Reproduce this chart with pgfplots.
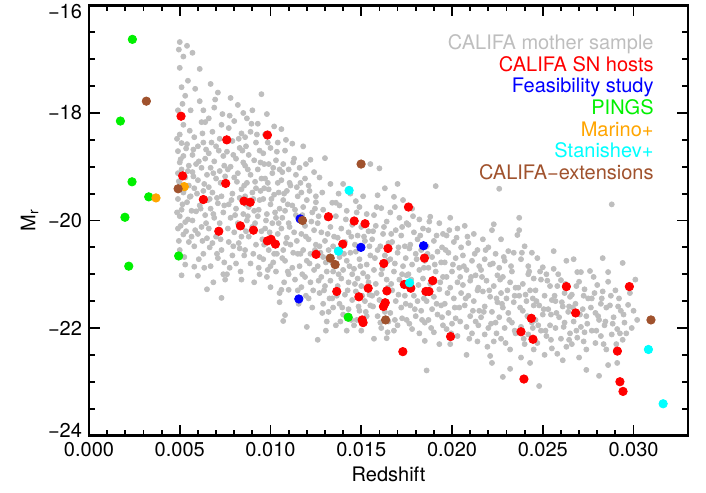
\documentclass[border=0pt]{standalone}
\usepackage{fontspec}
\setmainfont{TeX Gyre Heros}
\usepackage{pgfplots}
\pgfplotsset{compat=1.18}
\definecolor{cgrey}{RGB}{190,190,190}
\definecolor{cred}{RGB}{255,0,0}
\definecolor{cblue}{RGB}{0,0,255}
\definecolor{cgreen}{RGB}{0,240,0}
\definecolor{corange}{RGB}{255,165,0}
\definecolor{ccyan}{RGB}{0,255,255}
\definecolor{cbrown}{RGB}{160,82,45}
\begin{document}
\begin{tikzpicture}
\begin{axis}[
  scale only axis, width=299.5pt, height=215pt,
  xmin=0, xmax=0.033, ymin=-24, ymax=-16,
  xtick={0,0.005,0.010,0.015,0.020,0.025,0.030},
  xticklabels={0.000,0.005,0.010,0.015,0.020,0.025,0.030},
  ytick={-24,-22,-20,-18,-16},
  yticklabels={\raisebox{2.5pt}[\height][\depth]{−24},−22,−20,−18,\raisebox{-3.2pt}[\height][\depth]{−16}},
  scaled x ticks=false,
  minor x tick num=4, minor y tick num=3,
  tick align=inside, major tick length=5.3pt, minor tick length=2.8pt,
  axis line style={line width=1.2pt},
  every tick/.style={black, line width=0.9pt},
  ticklabel style={font=\fontsize{10}{12}\selectfont},
  label style={font=\fontsize{10}{12}\selectfont},
  xlabel={Redshift}, ylabel={M\textsubscript{r}},
  xlabel style={yshift=2pt},
  ylabel style={yshift=-2pt},
]
\addplot[only marks, mark=*, mark size=1.25pt, draw=none, mark options={draw=cgrey, fill=cgrey}] table {
0.0050 -16.68
0.0052 -16.95
0.0054 -16.75
0.0057 -16.88
0.0050 -17.16
0.0051 -17.52
0.0053 -17.68
0.0049 -17.95
0.0052 -18.22
0.0050 -18.40
0.0051 -18.56
0.0054 -18.58
0.0049 -18.71
0.0052 -18.80
0.0050 -18.92
0.0055 -18.98
0.0051 -19.05
0.0049 -19.12
0.0053 -19.20
0.0050 -19.30
0.0055 -19.35
0.0052 -19.48
0.0049 -19.60
0.0054 -19.66
0.0051 -19.80
0.0050 -19.92
0.0053 -20.03
0.0049 -20.15
0.0052 -20.26
0.0055 -20.40
0.0050 -20.55
0.0053 -20.82
0.0051 -21.02
0.0061 -17.18
0.0061 -17.78
0.0056 -17.95
0.0063 -17.95
0.0064 -18.17
0.0062 -18.17
0.0058 -18.45
0.0063 -18.55
0.0060 -18.62
0.0057 -18.78
0.0064 -18.85
0.0059 -18.95
0.0062 -19.02
0.0057 -19.10
0.0065 -19.15
0.0060 -19.25
0.0058 -19.40
0.0063 -19.45
0.0056 -19.55
0.0061 -19.72
0.0059 -19.83
0.0064 -19.90
0.0057 -20.00
0.0062 -20.12
0.0060 -20.25
0.0065 -20.33
0.0058 -20.48
0.0063 -20.62
0.0058 -20.86
0.0060 -21.03
0.0065 -21.28
0.0067 -17.46
0.0071 -17.62
0.0069 -17.90
0.0066 -18.10
0.0073 -18.22
0.0068 -18.35
0.0072 -18.48
0.0070 -18.62
0.0066 -18.75
0.0074 -18.80
0.0069 -18.90
0.0067 -19.02
0.0072 -19.08
0.0075 -19.18
0.0070 -19.22
0.0066 -19.38
0.0068 -19.48
0.0073 -19.55
0.0071 -19.68
0.0067 -19.78
0.0074 -19.85
0.0069 -19.95
0.0072 -20.05
0.0066 -20.15
0.0070 -20.30
0.0068 -20.42
0.0073 -20.55
0.0071 -20.70
0.0067 -20.85
0.0074 -21.00
0.0073 -21.44
0.0075 -21.10
0.0078 -17.72
0.0082 -17.85
0.0085 -18.00
0.0080 -18.15
0.0077 -18.28
0.0084 -18.38
0.0079 -18.52
0.0083 -18.65
0.0076 -18.72
0.0081 -18.85
0.0085 -18.92
0.0078 -19.00
0.0082 -19.12
0.0080 -19.20
0.0076 -19.32
0.0084 -19.42
0.0079 -19.50
0.0083 -19.58
0.0077 -19.70
0.0081 -19.78
0.0085 -19.88
0.0078 -19.95
0.0082 -20.05
0.0080 -20.22
0.0084 -20.30
0.0077 -20.40
0.0083 -20.52
0.0079 -20.65
0.0081 -20.80
0.0076 -21.00
0.0084 -21.10
0.0095 -17.65
0.0090 -17.95
0.0087 -18.10
0.0093 -18.20
0.0089 -18.35
0.0086 -18.45
0.0092 -18.55
0.0094 -18.70
0.0088 -18.78
0.0091 -18.88
0.0086 -18.98
0.0093 -19.05
0.0089 -19.15
0.0095 -19.22
0.0087 -19.30
0.0092 -19.40
0.0090 -19.48
0.0086 -19.55
0.0094 -19.62
0.0088 -19.75
0.0091 -19.82
0.0093 -19.92
0.0087 -20.00
0.0090 -20.12
0.0095 -20.20
0.0088 -20.30
0.0092 -20.45
0.0086 -20.55
0.0094 -20.68
0.0089 -20.80
0.0094 -21.00
0.0091 -21.15
0.0098 -18.02
0.0102 -18.25
0.0097 -18.40
0.0104 -18.55
0.0100 -18.65
0.0096 -18.75
0.0103 -18.88
0.0099 -18.95
0.0105 -19.05
0.0101 -19.12
0.0097 -19.22
0.0104 -19.30
0.0099 -19.42
0.0102 -19.52
0.0096 -19.60
0.0100 -19.70
0.0105 -19.78
0.0098 -19.88
0.0103 -19.95
0.0101 -20.05
0.0097 -20.15
0.0104 -20.25
0.0099 -20.55
0.0102 -20.62
0.0096 -20.72
0.0100 -20.85
0.0103 -20.95
0.0098 -21.05
0.0100 -21.24
0.0105 -21.35
0.0106 -18.30
0.0112 -18.57
0.0108 -18.70
0.0113 -18.85
0.0107 -18.95
0.0110 -19.05
0.0114 -19.15
0.0106 -19.25
0.0111 -19.35
0.0109 -19.45
0.0115 -19.55
0.0107 -19.62
0.0112 -19.72
0.0108 -19.82
0.0114 -19.90
0.0110 -20.05
0.0106 -20.15
0.0113 -20.22
0.0109 -20.32
0.0111 -20.45
0.0107 -20.55
0.0115 -20.62
0.0108 -20.75
0.0112 -20.88
0.0110 -21.00
0.0106 -21.29
0.0110 -21.29
0.0105 -21.52
0.0107 -21.87
0.0108 -21.76
0.0118 -18.62
0.0122 -18.87
0.0116 -19.02
0.0124 -19.10
0.0119 -19.22
0.0121 -19.35
0.0117 -19.48
0.0125 -19.55
0.0120 -19.62
0.0118 -19.75
0.0123 -19.85
0.0119 -20.10
0.0124 -20.18
0.0117 -20.25
0.0121 -20.35
0.0125 -20.45
0.0118 -20.55
0.0122 -20.62
0.0120 -20.75
0.0116 -20.85
0.0124 -20.92
0.0119 -21.05
0.0122 -21.15
0.0115 -21.30
0.0117 -21.24
0.0121 -21.45
0.0123 -21.62
0.0120 -21.98
0.0130 -18.84
0.0127 -19.20
0.0133 -19.32
0.0125 -19.66
0.0134 -19.67
0.0136 -19.67
0.0129 -19.80
0.0131 -19.95
0.0126 -20.05
0.0133 -20.12
0.0128 -20.22
0.0135 -20.30
0.0130 -20.38
0.0127 -20.48
0.0132 -20.55
0.0129 -20.68
0.0134 -20.78
0.0126 -20.85
0.0131 -20.95
0.0128 -21.05
0.0133 -21.12
0.0130 -21.22
0.0127 -21.35
0.0134 -21.45
0.0129 -21.55
0.0132 -21.70
0.0126 -22.22
0.0131 -21.88
0.0140 -19.32
0.0144 -19.50
0.0138 -19.72
0.0142 -19.82
0.0136 -19.92
0.0145 -20.08
0.0139 -20.15
0.0143 -20.22
0.0137 -20.32
0.0141 -20.40
0.0144 -20.60
0.0138 -20.68
0.0142 -20.75
0.0136 -20.85
0.0140 -20.92
0.0145 -21.00
0.0139 -21.08
0.0143 -21.15
0.0137 -21.22
0.0141 -21.38
0.0145 -21.48
0.0138 -21.55
0.0143 -21.65
0.0140 -21.75
0.0136 -21.95
0.0142 -22.05
0.0155 -18.95
0.0147 -19.64
0.0151 -19.55
0.0149 -19.75
0.0153 -19.88
0.0146 -19.98
0.0150 -20.12
0.0154 -20.20
0.0148 -20.28
0.0152 -20.38
0.0147 -20.58
0.0155 -20.65
0.0149 -20.72
0.0153 -20.82
0.0146 -20.90
0.0151 -20.98
0.0148 -21.08
0.0154 -21.15
0.0150 -21.22
0.0147 -21.32
0.0152 -21.50
0.0155 -21.58
0.0149 -21.68
0.0153 -21.78
0.0146 -21.95
0.0150 -22.05
0.0160 -19.03
0.0159 -19.53
0.0163 -19.40
0.0161 -19.77
0.0157 -19.90
0.0164 -20.02
0.0158 -20.10
0.0162 -20.25
0.0156 -20.35
0.0165 -20.42
0.0159 -20.55
0.0163 -20.65
0.0157 -20.92
0.0161 -21.00
0.0164 -21.10
0.0158 -21.18
0.0156 -21.40
0.0160 -21.48
0.0163 -21.70
0.0159 -21.78
0.0165 -21.88
0.0157 -22.20
0.0164 -22.19
0.0161 -22.00
0.0170 -19.32
0.0168 -19.56
0.0173 -19.62
0.0166 -19.85
0.0171 -19.95
0.0175 -20.05
0.0169 -20.18
0.0172 -20.28
0.0167 -20.40
0.0174 -20.48
0.0170 -20.60
0.0166 -20.72
0.0173 -20.85
0.0168 -20.95
0.0175 -21.02
0.0171 -21.10
0.0167 -21.30
0.0174 -21.40
0.0169 -21.50
0.0172 -21.62
0.0166 -21.72
0.0175 -21.85
0.0170 -21.95
0.0168 -22.05
0.0178 -19.78
0.0182 -19.98
0.0176 -20.08
0.0184 -20.15
0.0179 -20.22
0.0181 -20.35
0.0177 -20.45
0.0183 -20.55
0.0180 -20.62
0.0185 -20.75
0.0178 -20.82
0.0182 -20.92
0.0176 -21.00
0.0184 -21.08
0.0179 -21.40
0.0181 -21.50
0.0177 -21.58
0.0183 -21.68
0.0180 -21.78
0.0185 -21.90
0.0178 -22.02
0.0182 -22.10
0.0185 -22.24
0.0186 -22.79
0.0191 -19.36
0.0188 -19.93
0.0193 -20.05
0.0187 -20.18
0.0195 -20.25
0.0190 -20.38
0.0186 -20.48
0.0192 -20.58
0.0189 -20.68
0.0194 -20.78
0.0187 -20.88
0.0191 -20.95
0.0195 -21.05
0.0188 -21.18
0.0193 -21.28
0.0190 -21.42
0.0186 -21.50
0.0194 -21.58
0.0189 -21.65
0.0192 -21.75
0.0187 -21.85
0.0195 -21.95
0.0190 -22.08
0.0193 -22.30
0.0199 -19.95
0.0203 -20.15
0.0197 -20.28
0.0201 -20.40
0.0205 -20.50
0.0198 -20.60
0.0202 -20.70
0.0196 -20.78
0.0204 -20.88
0.0200 -20.95
0.0197 -21.05
0.0203 -21.15
0.0199 -21.25
0.0205 -21.35
0.0201 -21.45
0.0196 -21.55
0.0204 -21.62
0.0198 -21.72
0.0202 -21.82
0.0200 -21.92
0.0197 -22.02
0.0203 -22.15
0.0199 -22.30
0.0207 -20.10
0.0212 -20.25
0.0209 -20.42
0.0214 -20.55
0.0206 -20.65
0.0211 -20.75
0.0215 -20.85
0.0208 -20.92
0.0213 -21.02
0.0210 -21.12
0.0206 -21.20
0.0214 -21.30
0.0209 -21.40
0.0212 -21.50
0.0207 -21.58
0.0215 -21.68
0.0210 -21.78
0.0213 -21.88
0.0208 -21.98
0.0211 -22.10
0.0208 -22.50
0.0214 -22.25
0.0223 -20.07
0.0226 -19.41
0.0222 -20.18
0.0217 -20.35
0.0220 -20.50
0.0224 -20.62
0.0218 -20.72
0.0221 -20.82
0.0216 -20.92
0.0225 -21.02
0.0219 -21.12
0.0223 -21.22
0.0217 -21.32
0.0221 -21.42
0.0225 -21.52
0.0218 -21.60
0.0222 -21.70
0.0216 -21.80
0.0224 -21.90
0.0220 -22.00
0.0218 -22.12
0.0223 -22.25
0.0221 -22.52
0.0222 -22.65
0.0227 -20.35
0.0231 -20.57
0.0234 -20.60
0.0229 -20.75
0.0226 -20.88
0.0233 -20.95
0.0228 -21.05
0.0232 -21.15
0.0235 -21.25
0.0227 -21.35
0.0230 -21.45
0.0234 -21.52
0.0228 -21.62
0.0231 -21.72
0.0226 -21.80
0.0233 -21.90
0.0229 -22.00
0.0235 -22.10
0.0227 -22.20
0.0232 -22.40
0.0232 -22.76
0.0228 -22.91
0.0237 -19.95
0.0237 -20.18
0.0236 -20.27
0.0240 -20.48
0.0244 -20.60
0.0238 -20.72
0.0242 -20.85
0.0242 -21.00
0.0245 -21.08
0.0239 -21.18
0.0243 -21.30
0.0237 -21.40
0.0241 -21.50
0.0245 -21.58
0.0239 -21.68
0.0244 -21.90
0.0238 -21.98
0.0242 -22.12
0.0240 -22.30
0.0245 -22.40
0.0238 -22.55
0.0243 -22.65
0.0250 -20.87
0.0248 -23.08
0.0247 -20.70
0.0252 -21.00
0.0249 -21.10
0.0254 -21.22
0.0246 -21.30
0.0251 -21.40
0.0255 -21.48
0.0248 -21.58
0.0253 -21.65
0.0250 -21.75
0.0246 -21.85
0.0254 -21.95
0.0249 -22.05
0.0252 -22.15
0.0247 -22.28
0.0255 -22.38
0.0251 -22.50
0.0256 -20.57
0.0256 -20.90
0.0260 -21.11
0.0263 -20.75
0.0258 -21.22
0.0262 -21.35
0.0265 -21.42
0.0257 -21.50
0.0261 -21.60
0.0264 -21.70
0.0259 -21.80
0.0262 -21.90
0.0257 -22.00
0.0265 -22.10
0.0260 -22.20
0.0263 -22.35
0.0258 -22.48
0.0261 -22.60
0.0269 -20.96
0.0271 -20.96
0.0270 -21.14
0.0267 -20.72
0.0273 -21.28
0.0266 -21.38
0.0275 -21.45
0.0268 -21.55
0.0272 -21.65
0.0274 -21.78
0.0267 -21.88
0.0271 -21.98
0.0273 -22.08
0.0269 -22.18
0.0266 -22.30
0.0274 -22.40
0.0270 -22.55
0.0276 -20.94
0.0278 -21.05
0.0280 -21.20
0.0283 -21.32
0.0277 -21.45
0.0282 -21.55
0.0285 -21.62
0.0279 -21.72
0.0281 -21.85
0.0284 -21.95
0.0277 -22.05
0.0282 -22.15
0.0279 -22.28
0.0285 -22.40
0.0274 -22.78
0.0281 -22.89
0.0283 -20.70
0.0286 -20.96
0.0286 -21.14
0.0288 -19.70
0.0294 -20.79
0.0290 -21.30
0.0292 -21.45
0.0287 -21.58
0.0293 -21.68
0.0289 -21.80
0.0295 -21.90
0.0291 -22.02
0.0288 -22.12
0.0294 -22.22
0.0286 -22.69
0.0291 -22.65
0.0297 -21.57
0.0300 -21.68
0.0298 -21.35
0.0302 -21.85
0.0299 -22.00
0.0296 -22.10
0.0301 -21.10
0.00485 -18.48
0.00535 -18.66
0.00505 -18.86
0.00545 -19.08
0.00495 -19.27
0.00525 -19.42
0.00555 -19.56
0.00515 -19.70
0.00485 -19.85
0.00545 -19.98
0.00505 -20.10
0.00535 -20.20
0.00495 -20.38
0.00525 -20.68
0.00555 -18.33
0.00515 -17.83
0.00545 -17.40
0.00495 -16.82
0.00585 -17.55
0.00625 -18.38
0.00575 -18.68
0.00645 -18.68
0.00605 -18.90
0.00575 -19.18
0.00635 -19.32
0.00595 -19.50
0.00655 -19.62
0.00615 -19.78
0.00565 -19.82
0.00645 -20.05
0.00585 -20.18
0.00625 -20.38
0.00605 -20.72
0.00565 -20.30
0.00635 -20.88
0.00695 -17.75
0.00735 -18.02
0.00675 -18.55
0.00715 -18.70
0.00745 -18.98
0.00685 -19.12
0.00725 -19.30
0.00665 -19.60
0.00705 -19.58
0.00745 -19.72
0.00685 -19.88
0.00725 -20.35
0.00665 -20.50
0.00705 -20.62
0.00745 -20.78
0.00685 -21.15
0.00775 -18.05
0.00825 -18.48
0.00795 -18.78
0.00845 -18.70
0.00765 -19.05
0.00815 -19.28
0.00855 -19.35
0.00785 -19.62
0.00805 -19.90
0.00845 -20.12
0.00765 -20.15
0.00825 -20.42
0.00795 -20.48
0.00855 -20.65
0.00775 -20.88
0.00835 -20.95
0.00895 -18.20
0.00865 -18.62
0.00925 -18.40
0.00945 -18.92
0.00875 -19.05
0.00915 -19.28
0.00945 -19.45
0.00865 -19.70
0.00905 -19.60
0.00935 -19.80
0.00875 -19.92
0.00915 -20.05
0.00955 -20.35
0.00865 -20.20
0.00905 -20.62
0.00935 -20.88
0.00985 -18.55
0.01035 -18.72
0.00965 -18.95
0.01015 -19.02
0.00985 -19.30
0.01045 -19.48
0.00965 -19.40
0.01005 -19.60
0.01025 -19.85
0.00975 -20.00
0.01045 -20.05
0.00995 -20.22
0.01035 -20.62
0.00965 -20.45
0.01015 -20.78
0.00985 -20.92
0.01085 -18.50
0.01125 -18.92
0.01065 -19.10
0.01105 -19.30
0.01145 -19.38
0.01075 -19.50
0.01095 -19.70
0.01135 -19.80
0.01065 -19.95
0.01105 -20.12
0.01145 -20.38
0.01085 -20.42
0.01125 -20.60
0.01065 -20.70
0.01095 -20.95
0.01135 -21.10
0.01075 -21.15
0.01195 -18.95
0.01165 -19.30
0.01215 -19.45
0.01245 -19.78
0.01175 -19.90
0.01225 -20.02
0.01195 -20.30
0.01245 -20.55
0.01165 -20.62
0.01215 -20.80
0.01175 -21.00
0.01235 -21.30
0.01195 -21.40
0.01155 -21.55
0.01285 -19.48
0.01265 -19.92
0.01315 -20.25
0.01345 -20.48
0.01275 -20.60
0.01305 -20.78
0.01345 -20.95
0.01265 -21.12
0.01295 -21.30
0.01325 -21.45
0.01285 -21.72
0.01345 -21.62
0.01305 -22.05
0.01375 -19.50
0.01415 -19.98
0.01445 -20.30
0.01365 -20.55
0.01405 -20.62
0.01435 -20.85
0.01375 -21.00
0.01425 -21.30
0.01365 -21.40
0.01395 -21.62
0.01445 -21.85
0.01385 -21.88
0.01475 -19.85
0.01515 -20.30
0.01545 -20.48
0.01465 -20.45
0.01495 -20.85
0.01535 -21.05
0.01465 -21.18
0.01505 -21.40
0.01545 -21.38
0.01485 -21.60
0.01525 -21.70
0.01475 -21.85
0.01585 -19.75
0.01625 -20.12
0.01565 -20.20
0.01605 -20.48
0.01645 -20.75
0.01575 -20.70
0.01615 -20.90
0.01645 -21.25
0.01585 -21.35
0.01565 -21.60
0.01605 -21.90
0.01645 -22.08
0.01685 -19.75
0.01725 -20.12
0.01665 -20.25
0.01705 -20.50
0.01745 -20.70
0.01685 -20.80
0.01725 -21.00
0.01665 -21.18
0.01705 -21.38
0.01745 -21.55
0.01685 -21.85
0.01725 -21.82
0.01785 -19.92
0.01825 -20.28
0.01765 -20.52
0.01805 -20.72
0.01845 -20.88
0.01775 -21.10
0.01815 -21.20
0.01845 -21.45
0.01795 -21.65
0.01835 -21.85
0.01765 -21.92
0.01875 -20.02
0.01915 -20.28
0.01945 -20.50
0.01865 -20.62
0.01905 -20.82
0.01935 -21.15
0.01875 -21.35
0.01915 -21.55
0.01945 -21.80
0.01885 -22.00
0.01985 -20.18
0.02025 -20.32
0.01965 -20.55
0.02005 -20.82
0.02045 -21.05
0.01975 -21.35
0.02015 -21.62
0.02045 -21.88
0.01995 -22.10
0.02085 -20.30
0.02125 -20.62
0.02065 -20.85
0.02105 -21.05
0.02145 -21.25
0.02075 -21.45
0.02115 -21.68
0.02145 -21.95
0.02095 -22.20
0.02185 -20.55
0.02225 -20.80
0.02165 -21.05
0.02205 -21.30
0.02245 -21.45
0.02175 -21.70
0.02215 -21.92
0.02245 -22.10
0.02195 -22.35
0.02285 -20.68
0.02325 -20.85
0.02265 -21.10
0.02305 -21.30
0.02345 -21.40
0.02275 -21.55
0.02315 -21.85
0.02345 -22.05
0.02295 -22.28
0.02385 -20.60
0.02425 -20.95
0.02365 -21.25
0.02405 -21.38
0.02445 -21.45
0.02375 -21.62
0.02415 -21.78
0.02445 -22.00
0.02395 -22.20
0.02485 -20.95
0.02525 -21.12
0.02465 -21.50
0.02505 -21.65
0.02545 -21.75
0.02475 -21.95
0.02515 -22.05
0.02545 -22.22
0.02585 -21.00
0.02625 -21.18
0.02565 -21.40
0.02605 -21.52
0.02645 -21.60
0.02575 -21.72
0.02615 -21.98
0.02645 -22.22
0.02685 -21.22
0.02725 -21.40
0.02665 -21.62
0.02705 -21.75
0.02745 -21.92
0.02685 -22.05
0.02725 -22.25
0.02785 -21.35
0.02825 -21.45
0.02765 -21.62
0.02805 -21.78
0.02845 -21.88
0.02795 -22.05
0.02835 -22.30
0.02875 -21.40
0.02915 -21.60
0.02945 -21.75
0.02885 -21.92
0.02925 -22.10
0.02905 -22.30
};
% CALIFA SN hosts
\addplot[only marks, mark=*, mark size=2.1pt, draw=none, mark options={draw=cred, fill=cred}] table {
0.00507 -18.06
0.00759 -18.50
0.00983 -18.41
0.00516 -19.17
0.00753 -19.31
0.00630 -19.61
0.00854 -19.64
0.00888 -19.66
0.00715 -20.20
0.00834 -20.10
0.00906 -20.18
0.00983 -20.38
0.01003 -20.35
0.01027 -20.44
0.01760 -19.75
0.01319 -19.93
0.01461 -20.01
0.01521 -20.06
0.01398 -20.44
0.01647 -20.52
0.01251 -20.63
0.01624 -20.80
0.01848 -20.70
0.01894 -21.12
0.01365 -21.32
0.01538 -21.26
0.01641 -21.31
0.01737 -21.19
0.01773 -21.26
0.01856 -21.32
0.01873 -21.32
0.01487 -21.42
0.01632 -21.53
0.01622 -21.60
0.01505 -21.85
0.01510 -21.90
0.01992 -22.16
0.01729 -22.44
0.02630 -21.23
0.02977 -21.23
0.02681 -21.72
0.02437 -21.82
0.02380 -22.07
0.02446 -22.21
0.02911 -22.43
0.02396 -22.95
0.02925 -23.00
0.02942 -23.18
};
% Feasibility study
\addplot[only marks, mark=*, mark size=2.1pt, draw=none, mark options={draw=cblue, fill=cblue}] table {
0.01156 -21.46
0.01163 -19.97
0.01498 -20.50
0.01843 -20.47
};
% PINGS
\addplot[only marks, mark=*, mark size=2.1pt, draw=none, mark options={draw=cgreen, fill=cgreen}] table {
0.00239 -16.63
0.00173 -18.15
0.00237 -19.28
0.00329 -19.56
0.00198 -19.94
0.00219 -20.85
0.00494 -20.66
0.01428 -21.80
};
% Marino+
\addplot[only marks, mark=*, mark size=2.1pt, draw=none, mark options={draw=corange, fill=corange}] table {
0.00369 -19.58
0.00525 -19.37
};
% Stanishev+
\addplot[only marks, mark=*, mark size=2.1pt, draw=none, mark options={draw=ccyan, fill=ccyan}] table {
0.01433 -19.44
0.01374 -20.57
0.01766 -21.16
0.03082 -22.40
0.03163 -23.41
};
% CALIFA-extensions
\addplot[only marks, mark=*, mark size=2.1pt, draw=none, mark options={draw=cbrown, fill=cbrown}] table {
0.00316 -17.78
0.00491 -19.41
0.01176 -20.00
0.01499 -18.95
0.01329 -20.70
0.01356 -20.82
0.01634 -21.85
0.03096 -21.85
};
\end{axis}
\node[anchor=north east, inner sep=0pt, align=right, font=\fontsize{10}{10.85}\selectfont]
  at ([xshift=-17pt,yshift=-14.3pt]current axis.north east)
  {\textcolor{cgrey}{CALIFA mother sample}\\
   \textcolor{cred}{CALIFA SN hosts}\\
   \textcolor{cblue}{Feasibility study}\\
   \textcolor{cgreen}{PINGS}\\
   \textcolor{corange}{Marino+}\\
   \textcolor{ccyan}{Stanishev+}\\
   \textcolor{cbrown}{CALIFA−extensions}};
\pgfresetboundingbox
\path[use as bounding box] ([xshift=-44.5pt,yshift=-28.5pt]current axis.south west) rectangle ([xshift=9pt,yshift=2.75pt]current axis.north east);
\end{tikzpicture}
\end{document}
